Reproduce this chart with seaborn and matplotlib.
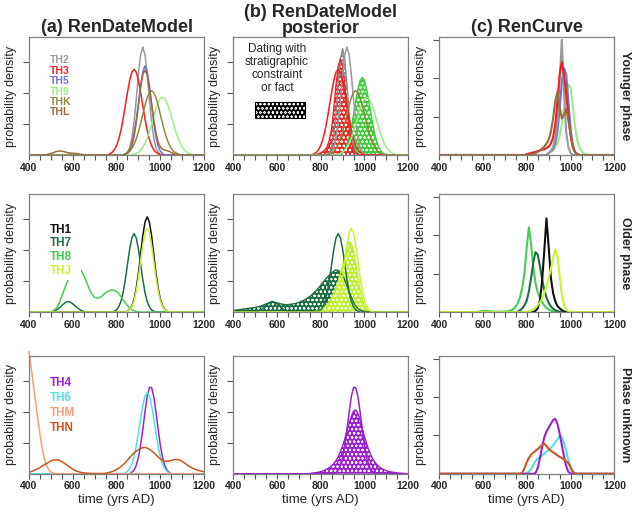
import matplotlib as mpl

mpl.use("Agg")

import matplotlib.pyplot as plt
import seaborn as sns
import numpy as np
from matplotlib.patches import Rectangle

sns.set_theme(style="ticks")
plt.rcParams["font.family"] = ["Liberation Sans", "DejaVu Sans"]
plt.rcParams["hatch.color"] = "white"
plt.rcParams["hatch.linewidth"] = 0.45

# every curve: (first year, densities every 10 years), zero elsewhere
# ---- (a) RenDateModel priors
th2 = (840, [0.03, 0.09, 0.24, 0.55, 1.06, 1.79, 2.59, 3.23, 3.48, 3.23, 2.59, 1.79, 1.06, 0.55, 0.24, 0.09, 0.03])
th3 = (770, [0.04, 0.09, 0.17, 0.30, 0.51, 0.79, 1.16, 1.59, 2.02, 2.40, 2.67, 2.76, 2.67, 2.40, 2.02, 1.59,
             1.16, 0.79, 0.51, 0.30, 0.17, 0.09, 0.04])
th5 = (850, [0.05, 0.13, 0.29, 0.58, 1.03, 1.62, 2.22, 2.69, 2.87, 2.69, 2.22, 1.62, 1.03, 0.58, 0.29, 0.13, 0.05])
th9 = (880, [0.03, 0.05, 0.09, 0.16, 0.25, 0.38, 0.55, 0.76, 1.00, 1.25, 1.49, 1.69, 1.82, 1.86, 1.82, 1.69,
             1.49, 1.25, 1.00, 0.76, 0.55, 0.38, 0.25, 0.16, 0.09, 0.05, 0.03])
thk = (840, [0.04, 0.07, 0.12, 0.21, 0.34, 0.52, 0.75, 1.02, 1.31, 1.60, 1.85, 2.01, 2.07, 2.01, 1.85, 1.60,
             1.31, 1.02, 0.75, 0.52, 0.34, 0.21, 0.12, 0.07, 0.04])
thl = (480, [0.01, 0.03, 0.05, 0.07, 0.10, 0.12, 0.13, 0.12, 0.11, 0.09, 0.07, 0.06, 0.06, 0.05, 0.05, 0.03,
             0.02, 0.01] + [0] * 18 +
       [0.03, 0.08, 0.18, 0.37, 0.69, 1.13, 1.66, 2.19, 2.59, 2.74, 2.59, 2.19, 1.66, 1.13, 0.72, 0.42,
        0.26, 0.19, 0.16, 0.14, 0.12, 0.08, 0.05, 0.02])

th1 = (850, [0.03, 0.09, 0.20, 0.41, 0.77, 1.26, 1.86, 2.46, 2.90, 3.07, 2.90, 2.46, 1.86, 1.26, 0.77, 0.41,
             0.20, 0.09, 0.03])
th7 = (500, [0.01, 0.02, 0.05, 0.09, 0.14, 0.21, 0.27, 0.32, 0.34, 0.32, 0.27, 0.21, 0.14, 0.09, 0.05, 0.02,
             0.01] + [0] * 12 +
       [0.03, 0.07, 0.17, 0.34, 0.63, 1.04, 1.54, 2.03, 2.39, 2.53, 2.39, 2.03, 1.54, 1.04, 0.63, 0.34,
        0.17, 0.07, 0.03])
th8 = (500, [0.01, 0.04, 0.09, 0.17, 0.32, 0.50, 0.70, 0.88, 1.06, 1.30, 1.50, 1.55, 1.50, 1.42, 1.33, 1.18,
             1.02, 0.84, 0.68, 0.55, 0.48, 0.45, 0.46, 0.50, 0.56, 0.62, 0.67, 0.70, 0.71, 0.70, 0.66, 0.59,
             0.50, 0.40, 0.30, 0.21, 0.13, 0.08, 0.04, 0.02, 0.01])
thj = (850, [0.03, 0.08, 0.18, 0.36, 0.68, 1.11, 1.64, 2.16, 2.55, 2.70, 2.55, 2.16, 1.64, 1.11, 0.68, 0.36,
             0.18, 0.08, 0.03])

th4 = (870, [0.05, 0.12, 0.27, 0.53, 0.92, 1.43, 1.99, 2.49, 2.78, 2.78, 2.49, 1.99, 1.43, 0.92, 0.53, 0.27,
             0.12, 0.05])
th6 = (840, [0.03, 0.08, 0.17, 0.31, 0.55, 0.89, 1.31, 1.78, 2.20, 2.51, 2.62, 2.51, 2.20, 1.78, 1.31, 0.89,
             0.55, 0.31, 0.17, 0.08, 0.03])
thm = (400, [3.95, 3.45, 2.90, 2.35, 1.80, 1.30, 0.85, 0.50, 0.27, 0.13, 0.06, 0.02, 0.01])
thn = (400, [0.05, 0.07, 0.10, 0.13, 0.16, 0.20, 0.25, 0.29, 0.33, 0.37,
             0.41, 0.44, 0.45, 0.45, 0.43, 0.40, 0.35, 0.30, 0.25, 0.20,
             0.15, 0.11, 0.08, 0.06, 0.04, 0.03, 0.02, 0.02, 0.01, 0.01,
             0.01, 0.01, 0.01, 0.01, 0.01, 0.02, 0.03, 0.05, 0.07, 0.10,
             0.14, 0.18, 0.23, 0.29, 0.36, 0.44, 0.52, 0.60, 0.67, 0.73,
             0.78, 0.82, 0.84, 0.85, 0.83, 0.79, 0.74, 0.68, 0.61, 0.54,
             0.48, 0.43, 0.41, 0.40, 0.41, 0.43, 0.45, 0.46, 0.46, 0.44,
             0.40, 0.35, 0.30, 0.25, 0.21, 0.17, 0.14, 0.12, 0.10, 0.08,
             0.07])

# ---- (b) posteriors
th2_post = (830, [0.02, 0.08, 0.26, 0.66, 1.35, 2.27, 3.09, 3.43, 3.09, 2.27, 1.35, 0.66, 0.26, 0.08, 0.02])
th3_post = (780, [0.02, 0.04, 0.07, 0.11, 0.17, 0.27, 0.50, 0.86, 1.51, 2.25, 2.86, 3.10, 2.86, 2.25, 1.51,
                  0.86, 0.42, 0.17, 0.06, 0.02])
th9_post = (880, [0.02, 0.04, 0.09, 0.18, 0.34, 0.58, 0.90, 1.30, 1.73, 2.12, 2.40, 2.50, 2.40, 2.12, 1.73,
                  1.30, 0.90, 0.58, 0.34, 0.18, 0.09, 0.04, 0.02, 0.01])
th7_post = (400, [0.05, 0.06, 0.07, 0.08, 0.09, 0.10, 0.11, 0.12, 0.13, 0.14,
                  0.15, 0.16, 0.18, 0.20, 0.23, 0.26, 0.29, 0.31, 0.32, 0.31,
                  0.30, 0.28, 0.26, 0.25, 0.24, 0.24, 0.25, 0.26, 0.27, 0.29,
                  0.31, 0.34, 0.37, 0.41, 0.45, 0.50, 0.56, 0.63, 0.70, 0.78,
                  0.86, 0.95, 1.04, 1.12, 1.20, 1.27, 1.32, 1.36, 1.34, 1.28,
                  1.18, 1.03, 0.85, 0.66, 0.48, 0.32, 0.20, 0.12, 0.07, 0.04,
                  0.02, 0.01])
thj_post = (780, [0.03, 0.05, 0.08, 0.12, 0.18, 0.26, 0.35, 0.47, 0.62, 0.80, 1.00, 1.24, 1.50, 1.80, 2.10,
                  2.27, 2.20, 1.95, 1.55, 1.10, 0.70, 0.40, 0.20, 0.10, 0.04, 0.02])
th4_post = (750, [0.01, 0.02, 0.03, 0.04, 0.05, 0.07, 0.09, 0.12, 0.16, 0.20,
                  0.26, 0.33, 0.43, 0.55, 0.71, 0.90, 1.13, 1.38, 1.63, 1.85,
                  2.02, 2.06, 1.95, 1.72, 1.46, 1.20, 0.96, 0.75, 0.59, 0.45,
                  0.35, 0.27, 0.21, 0.16, 0.13, 0.10, 0.08, 0.06, 0.05, 0.04,
                  0.03, 0.02, 0.02, 0.01, 0.01])

# ---- (c) RenCurve
c_th2 = (900, [0.05, 0.10, 0.20, 0.45, 0.90, 1.90, 3.00, 1.60, 0.60, 0.20, 0.05])
c_th3 = (800, [0.02, 0.04, 0.05, 0.07, 0.08, 0.10, 0.12, 0.14, 0.15, 0.18, 0.22, 0.30, 0.45, 0.80, 1.40,
               2.10, 2.42, 2.10, 1.60, 1.00, 0.50, 0.20, 0.08, 0.03])
c_th5 = (900, [0.05, 0.10, 0.15, 0.30, 0.60, 1.20, 1.90, 2.26, 2.10, 1.40, 0.70, 0.25, 0.08, 0.02])
c_th9 = (900, [0.05, 0.08, 0.12, 0.20, 0.30, 0.50, 0.80, 1.20, 1.55, 1.83, 1.75, 1.30, 0.75, 0.40, 0.20,
               0.10, 0.04, 0.02])
c_thl = (830, [0.02, 0.05, 0.08, 0.12, 0.17, 0.22, 0.30, 0.40, 0.60, 0.95, 1.40, 1.65, 1.25, 0.95, 1.05,
               1.20, 0.90, 0.55, 0.25, 0.08, 0.02])
c_th8 = (580, [0.01, 0.02, 0.03, 0.03, 0.03, 0.02, 0.02, 0.01, 0.01, 0.01, 0.01, 0.01, 0.02, 0.02, 0.03,
               0.05, 0.08, 0.15, 0.25, 0.40, 0.65, 1.05, 1.70, 2.21, 1.75, 1.15, 0.75, 0.52, 0.38, 0.26,
               0.17, 0.11, 0.07, 0.04, 0.02, 0.01])
c_th7 = (760, [0.02, 0.05, 0.10, 0.18, 0.30, 0.55, 0.90, 1.30, 1.56, 1.50, 1.20, 0.85, 0.58, 0.38, 0.24,
               0.15, 0.09, 0.05, 0.03, 0.01])
c_th1 = (830, [0.01, 0.03, 0.10, 0.30, 0.80, 1.60, 2.44, 1.70, 0.90, 0.50, 0.28, 0.16, 0.10, 0.05, 0.02])
c_thj = (800, [0.01, 0.02, 0.04, 0.07, 0.12, 0.18, 0.25, 0.35, 0.50, 0.68, 0.88, 1.12, 1.40, 1.63, 1.45,
               0.95, 0.45, 0.18, 0.06, 0.02])
c_th4 = (840, [0.02, 0.15, 0.40, 0.70, 0.95, 1.10, 1.20, 1.30, 1.40, 1.43, 1.30, 1.05, 0.75, 0.45, 0.20,
               0.05, 0.01])
c_th6 = (800, [0.02, 0.06, 0.12, 0.22, 0.33, 0.40, 0.44, 0.48, 0.52, 0.57, 0.62, 0.68, 0.74, 0.82, 0.90,
               0.97, 0.95, 0.80, 0.60, 0.35, 0.12, 0.03])
c_thn = (780, [0.03, 0.15, 0.30, 0.42, 0.50, 0.55, 0.60, 0.64, 0.70, 0.75, 0.78, 0.72, 0.65, 0.60, 0.56,
               0.52, 0.48, 0.44, 0.41, 0.37, 0.33, 0.28, 0.18, 0.06, 0.01])

colors = {
    "TH2": "#9a9a9a", "TH3": "#ee2020", "TH5": "#7070dd", "TH9": "#99ee88",
    "THK": "#8f8a3c", "THL": "#9c6a3c", "TH1": "#111111", "TH7": "#1e6e43",
    "TH8": "#44cc55", "THJ": "#c8f532", "TH4": "#9922cc", "TH6": "#55e0e0",
    "THM": "#f4a078", "THN": "#cc5522",
}
post_colors = {"TH2": "#8a8a8a", "TH3": "#e82a2a", "TH9": "#3fcc3a",
               "TH7": "#1e6e43", "THJ": "#bdf02a", "TH4": "#9922cc"}

rows_a = [
    [("TH2", th2), ("TH3", th3), ("TH5", th5), ("TH9", th9), ("THK", thk), ("THL", thl)],
    [("TH1", th1), ("TH7", th7), ("TH8", th8), ("THJ", thj)],
    [("TH4", th4), ("TH6", th6), ("THM", thm), ("THN", thn)],
]
rows_b_lines = [
    [("TH2", th2), ("TH3", th3), ("TH9", th9), ("THK", thk)],
    [("TH7", th7), ("THJ", thj)],
    [("TH4", th4)],
]
rows_b_post = [
    [("TH9", th9_post), ("TH2", th2_post), ("TH3", th3_post)],
    [("TH7", th7_post), ("THJ", thj_post)],
    [("TH4", th4_post)],
]
rows_c = [
    [("TH9", c_th9), ("TH5", c_th5), ("TH2", c_th2), ("TH3", c_th3), ("THL", c_thl)],
    [("TH8", c_th8), ("TH7", c_th7), ("TH1", c_th1), ("THJ", c_thj)],
    [("TH6", c_th6), ("TH4", c_th4), ("THN", c_thn)],
]
phases = ["Younger phase", "Older phase", "Phase unknown"]


def expand(curve):
    start, vals = curve
    x = np.arange(400, 1201, 10)
    y = np.zeros(len(x))
    i = (start - 400) // 10
    y[i:i + len(vals)] = vals
    return x, y


def style(ax, top, last_row):
    ax.set_xlim(400, 1200)
    ax.set_ylim(0, top)
    ax.set_xticks(range(400, 1201, 200))
    ax.set_xticks(range(400, 1201, 50), minor=True)
    ax.set_yticks([1, 2, 3])
    ax.set_yticklabels([])
    ax.tick_params(axis="x", which="both", direction="out", length=3.5, width=0.8,
                   color="#555555", labelsize=7.5, pad=2)
    ax.tick_params(axis="y", direction="out", length=4, width=0.8, color="#555555")
    for lab in ax.get_xticklabels():
        lab.set_fontweight("bold")
    for s in ax.spines.values():
        s.set_color("#808080")
        s.set_linewidth(0.9)
    ax.set_ylabel("probability density", fontsize=9, labelpad=1)
    ax.set_xlabel("time (yrs AD)" if last_row else "", fontsize=9.5, labelpad=2)


fig = plt.figure(figsize=(6.42, 5.15), dpi=100)
lefts = [0.045, 0.363, 0.684]
bottoms = [0.699, 0.394, 0.080]
W, H = 0.273, 0.229
legend_y = [[0.805, 0.715, 0.627, 0.537, 0.452, 0.362],
            [0.70, 0.585, 0.465, 0.345],
            [0.77, 0.645, 0.515, 0.39]]
legend_size = [7.5, 8.5, 8.5]

for r in range(3):
    # (a)
    ax = fig.add_axes([lefts[0], bottoms[r], W, H])
    for name, cur in rows_a[r]:
        x, y = expand(cur)
        sns.lineplot(x=x, y=y, ax=ax, color=colors[name], linewidth=1.1,
                     estimator=None, sort=False, clip_on=(name != "THM"))
    if r == 1:
        ax.add_patch(Rectangle((490, 1.04), 147, 2.6, facecolor="white",
                               edgecolor="none", zorder=3))
    for (name, _), yy in zip(rows_a[r], legend_y[r]):
        ax.text(0.12, yy, name, transform=ax.transAxes, color=colors[name],
                fontsize=legend_size[r], fontweight="bold", va="center", zorder=4)
    style(ax, 3.8, r == 2)
    if r == 0:
        ax.set_title("(a) RenDateModel", fontsize=13, fontweight="bold", pad=4)

    # (b)
    ax = fig.add_axes([lefts[1], bottoms[r], W, H])
    for name, cur in rows_b_post[r]:
        x, y = expand(cur)
        ax.fill_between(x, 0, y, facecolor=post_colors[name], edgecolor="white",
                        hatch="oooo", linewidth=0, zorder=1)
        sns.lineplot(x=x, y=y, ax=ax, color=post_colors[name], linewidth=1.0,
                     estimator=None, sort=False)
    for name, cur in rows_b_lines[r]:
        x, y = expand(cur)
        sns.lineplot(x=x, y=y, ax=ax, color=colors[name], linewidth=1.1,
                     estimator=None, sort=False)
    style(ax, 3.8, r == 2)
    if r == 0:
        ax.set_title("(b) RenDateModel\nposterior", fontsize=13, fontweight="bold",
                     pad=3, linespacing=0.95)
        ax.text(0.25, 0.95, "Dating with\nstratigraphic\nconstraint\nor fact",
                transform=ax.transAxes, ha="center", va="top", fontsize=8.5,
                linespacing=1.1)
        ax.add_patch(Rectangle((0.125, 0.31), 0.285, 0.14, transform=ax.transAxes,
                               facecolor="black", edgecolor="white", hatch="oooo",
                               linewidth=0, zorder=4))
        ax.add_patch(Rectangle((0.125, 0.31), 0.285, 0.14, transform=ax.transAxes,
                               fill=False, edgecolor="black", linewidth=0.8, zorder=5))

    # (c)
    ax = fig.add_axes([lefts[2], bottoms[r], W, H])
    for name, cur in rows_c[r]:
        x, y = expand(cur)
        sns.lineplot(x=x, y=y, ax=ax, color=colors[name], linewidth=1.5,
                     estimator=None, sort=False)
    style(ax, 3.07, r == 2)
    if r == 0:
        ax.set_title("(c) RenCurve", fontsize=13, fontweight="bold", pad=4)
    fig.text(0.974, bottoms[r] + H / 2, phases[r], rotation=270, ha="center",
             va="center", fontsize=9, fontweight="bold")

fig.savefig("out.png", dpi=100)
